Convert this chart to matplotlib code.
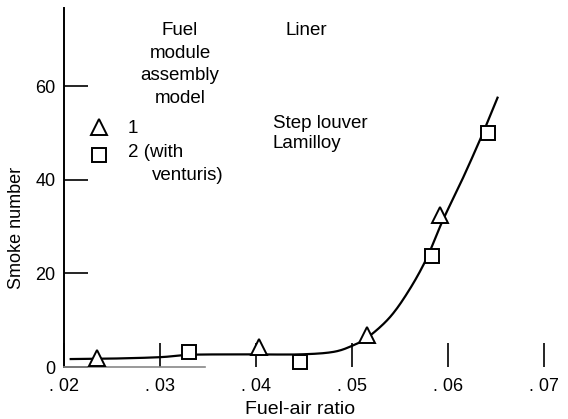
import matplotlib
matplotlib.use("Agg")
import matplotlib.pyplot as plt
import numpy as np

plt.rcParams['font.family'] = ['Liberation Sans', 'DejaVu Sans']

# Data
tri_x = [0.0234, 0.0403, 0.0516, 0.0592]
tri_y = [1.9, 4.3, 6.8, 32.5]
sq_x = [0.0330, 0.0446, 0.0584, 0.0642]
sq_y = [3.2, 1.1, 23.7, 50.0]
curve_x = [0.0207, 0.025, 0.030, 0.033, 0.037, 0.040, 0.0446, 0.048, 0.050,
           0.0517, 0.054, 0.056, 0.0578, 0.0595, 0.0615, 0.0635, 0.0652]
curve_y = [1.7, 1.8, 2.1, 2.6, 2.7, 2.7, 2.7, 3.2, 4.5,
           6.4, 10.7, 16.5, 23.2, 31.4, 40.0, 49.2, 57.6]
xticks = [0.02, 0.03, 0.04, 0.05, 0.06, 0.07]
xticklabels = ['. 02', '. 03', '. 04', '. 05', '. 06', '. 07']
yticks = [0, 20, 40, 60]


def catmull_rom(xs, ys, n=20):
    """Smooth rendering of a polyline through the given points."""
    p = np.column_stack([xs, ys])
    p = np.vstack([p[0], p, p[-1]])
    out = []
    t = np.linspace(0, 1, n, endpoint=False)[:, None]
    for i in range(1, len(p) - 2):
        p0, p1, p2, p3 = p[i - 1], p[i], p[i + 1], p[i + 2]
        seg = 0.5 * ((2 * p1) + (-p0 + p2) * t +
                     (2 * p0 - 5 * p1 + 4 * p2 - p3) * t ** 2 +
                     (-p0 + 3 * p1 - 3 * p2 + p3) * t ** 3)
        out.append(seg)
    out.append(p[-2][None, :])
    out = np.vstack(out)
    return out[:, 0], out[:, 1]


fig = plt.figure(figsize=(5.68, 4.19), dpi=100)
ax = fig.add_axes([0.1127, 0.1241, 0.873, 0.857])
ax.set_xlim(0.02, 0.0717)
ax.set_ylim(0, 76.8)

cx, cy = catmull_rom(curve_x, curve_y)
ax.plot(cx, cy, color='black', lw=1.6, zorder=2)
ax.plot(tri_x, tri_y, linestyle='none', marker='^', markersize=11,
        markerfacecolor='white', markeredgecolor='black', markeredgewidth=1.4,
        zorder=3, clip_on=False)
ax.plot(sq_x, sq_y, linestyle='none', marker='s', markersize=10,
        markerfacecolor='white', markeredgecolor='black', markeredgewidth=1.4,
        zorder=3, clip_on=False)

for s in ['top', 'right']:
    ax.spines[s].set_visible(False)
ax.spines['left'].set_linewidth(1.4)
ax.spines['bottom'].set_bounds(0.02, 0.0347)
ax.spines['bottom'].set_color('#888888')
ax.spines['bottom'].set_linewidth(1.2)

ax.set_xticks(xticks)
ax.set_xticklabels(xticklabels)
ax.set_yticks(yticks)
ax.tick_params(axis='both', direction='in', length=17, width=1.2, labelsize=13,
               color='black')
ax.tick_params(axis='x', pad=8)
ax.tick_params(axis='y', pad=6)

ax.set_xlabel('Fuel-air ratio', fontsize=14)
ax.xaxis.set_label_coords(0.476, -0.095)
ax.set_ylabel('Smoke number', fontsize=13)
ax.yaxis.set_label_coords(-0.079, 0.387)

fs = 13.5
# Legend-like annotations
for txt, yb in [('Fuel', 71.0), ('module', 66.1), ('assembly', 61.4), ('model', 56.5)]:
    ax.text(0.0321, yb, txt, ha='center', va='baseline', fontsize=fs)
ax.text(0.0453, 71.0, 'Liner', ha='center', va='baseline', fontsize=fs)
ax.plot([0.02365], [51.3], linestyle='none', marker='^', markersize=11,
        markerfacecolor='white', markeredgecolor='black', markeredgewidth=1.4,
        clip_on=False)
ax.plot([0.02365], [45.3], linestyle='none', marker='s', markersize=10,
        markerfacecolor='white', markeredgecolor='black', markeredgewidth=1.4,
        clip_on=False)
ax.text(0.02667, 50.0, '1', ha='left', va='baseline', fontsize=fs)
ax.text(0.02667, 44.9, '2 (with', ha='left', va='baseline', fontsize=fs)
ax.text(0.0292, 40.0, 'venturis)', ha='left', va='baseline', fontsize=fs)
ax.text(0.04177, 51.1, 'Step louver', ha='left', va='baseline', fontsize=fs)
ax.text(0.04177, 46.8, 'Lamilloy', ha='left', va='baseline', fontsize=fs)

fig.savefig('out.png', dpi=100)
